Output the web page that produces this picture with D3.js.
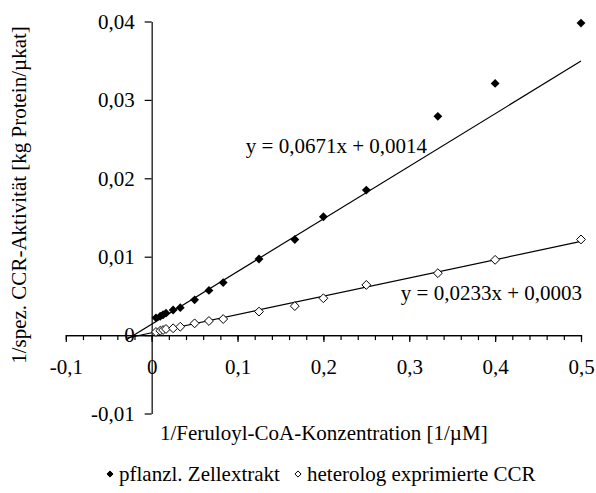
<!DOCTYPE html>
<html>
<head>
<meta charset="utf-8">
<script src="https://cdn.jsdelivr.net/npm/d3@7/dist/d3.min.js"></script>
<style>
  body { margin: 0; background: #fff; }
  svg text { font-family: "Liberation Serif", "Times New Roman", serif; fill: #000; }
</style>
</head>
<body>
<div id="app"></div>
<script>
// data
var concInv = [0.005, 0.01, 0.0133, 0.0167, 0.025, 0.0333, 0.05, 0.0667, 0.0833, 0.125, 0.1667, 0.2, 0.25, 0.3333, 0.4, 0.5];
var plantVals = [0.0022, 0.0024, 0.0026, 0.0028, 0.0032, 0.0035, 0.0045, 0.0057, 0.0067, 0.0097, 0.0122, 0.0151, 0.0185, 0.0279, 0.0321, 0.0398];
var heteroVals = [0.0004, 0.00056, 0.00065, 0.00078, 0.00087, 0.00107, 0.0015, 0.0018, 0.00205, 0.003, 0.0037, 0.0047, 0.0064, 0.0079, 0.0096, 0.0122];
var trendPlant = [0.0671, 0.0014];
var trendHetero = [0.0233, 0.0003];
var trendRange = [-0.03, 0.5];
var xTicks = [-0.1, 0, 0.1, 0.2, 0.3, 0.4, 0.5];
var xMinor = d3.range(-0.1, 0.5001, 0.02);
var yTicks = [-0.01, 0, 0.01, 0.02, 0.03, 0.04];
var seriesNames = ['pflanzl. Zellextrakt', 'heterolog exprimierte CCR'];
var eqLabels = ['y = 0,0671x + 0,0014', 'y = 0,0233x + 0,0003'];

var width = 596, height = 493;
var serif = '"Liberation Serif", "Times New Roman", serif';
var fmt = function (d) { return String(+d.toFixed(2)).replace('.', ','); };

var svg = d3.select('#app').append('svg')
  .attr('width', width)
  .attr('height', height);

var x = d3.scaleLinear().domain([-0.1, 0.5]).range([65.8, 581]);
var y = d3.scaleLinear().domain([-0.01, 0.04]).range([413.5, 21.5]);

// y axis
var yAxis = d3.axisLeft(y)
  .tickValues(yTicks)
  .tickSize(7)
  .tickPadding(10)
  .tickSizeOuter(0)
  .tickFormat(fmt);
var gy = svg.append('g')
  .attr('transform', 'translate(' + x(0) + ',0)')
  .call(yAxis);

// x axis minor ticks
svg.append('g')
  .attr('transform', 'translate(0,' + y(0) + ')')
  .call(d3.axisBottom(x).tickValues(xMinor).tickSize(5).tickSizeOuter(0).tickFormat(''));

var xAxis = d3.axisBottom(x)
  .tickValues(xTicks)
  .tickSize(7)
  .tickPadding(17)
  .tickSizeOuter(0)
  .tickFormat(fmt);
var gx = svg.append('g')
  .attr('transform', 'translate(0,' + y(0) + ')')
  .call(xAxis);

svg.selectAll('.tick text')
  .attr('font-family', serif)
  .style('font-family', serif)
  .style('font-size', '21px');
svg.selectAll('.domain, .tick line').attr('stroke', '#000').attr('stroke-width', 1.2);

// trend lines
[trendPlant, trendHetero].forEach(function (t) {
  svg.append('line')
    .attr('x1', x(trendRange[0])).attr('y1', y(t[0] * trendRange[0] + t[1]))
    .attr('x2', x(trendRange[1])).attr('y2', y(t[0] * trendRange[1] + t[1]))
    .attr('stroke', '#000')
    .attr('stroke-width', 1.2);
});

var diamond = d3.symbol().type(d3.symbolDiamond2).size(50);

svg.append('g').selectAll('path')
  .data(concInv)
  .enter().append('path')
  .attr('d', diamond)
  .attr('transform', function (d, i) { return 'translate(' + x(d) + ',' + y(heteroVals[i]) + ')'; })
  .attr('fill', '#fff')
  .attr('stroke', '#000')
  .attr('stroke-width', 1);

svg.append('g').selectAll('path')
  .data(concInv)
  .enter().append('path')
  .attr('d', diamond)
  .attr('transform', function (d, i) { return 'translate(' + x(d) + ',' + y(plantVals[i]) + ')'; })
  .attr('fill', '#000');

// equation labels
svg.append('text')
  .attr('x', 427).attr('y', 153)
  .attr('text-anchor', 'end')
  .style('font-size', '21px')
  .text(eqLabels[0]);
svg.append('text')
  .attr('x', 582).attr('y', 300)
  .attr('text-anchor', 'end')
  .style('font-size', '21px')
  .text(eqLabels[1]);

// axis titles
svg.append('text')
  .attr('transform', 'translate(26,195) rotate(-90)')
  .attr('text-anchor', 'middle')
  .style('font-size', '21px')
  .text('1/spez. CCR-Aktivität [kg Protein/µkat]');

svg.append('text')
  .attr('x', 160).attr('y', 440)
  .style('font-size', '21px')
  .text('1/Feruloyl-CoA-Konzentration [1/µM]');

// legend
var legend = svg.append('g').attr('transform', 'translate(0,481)');
var legendX = [110, 298];
seriesNames.forEach(function (name, i) {
  legend.append('path')
    .attr('d', d3.symbol().type(d3.symbolDiamond2).size(24))
    .attr('transform', 'translate(' + legendX[i] + ',-7)')
    .attr('fill', i === 0 ? '#000' : '#fff')
    .attr('stroke', '#000')
    .attr('stroke-width', 1);
  legend.append('text')
    .attr('x', legendX[i] + 9)
    .attr('y', 0)
    .style('font-size', '21px')
    .text(name);
});
</script>
</body>
</html>
